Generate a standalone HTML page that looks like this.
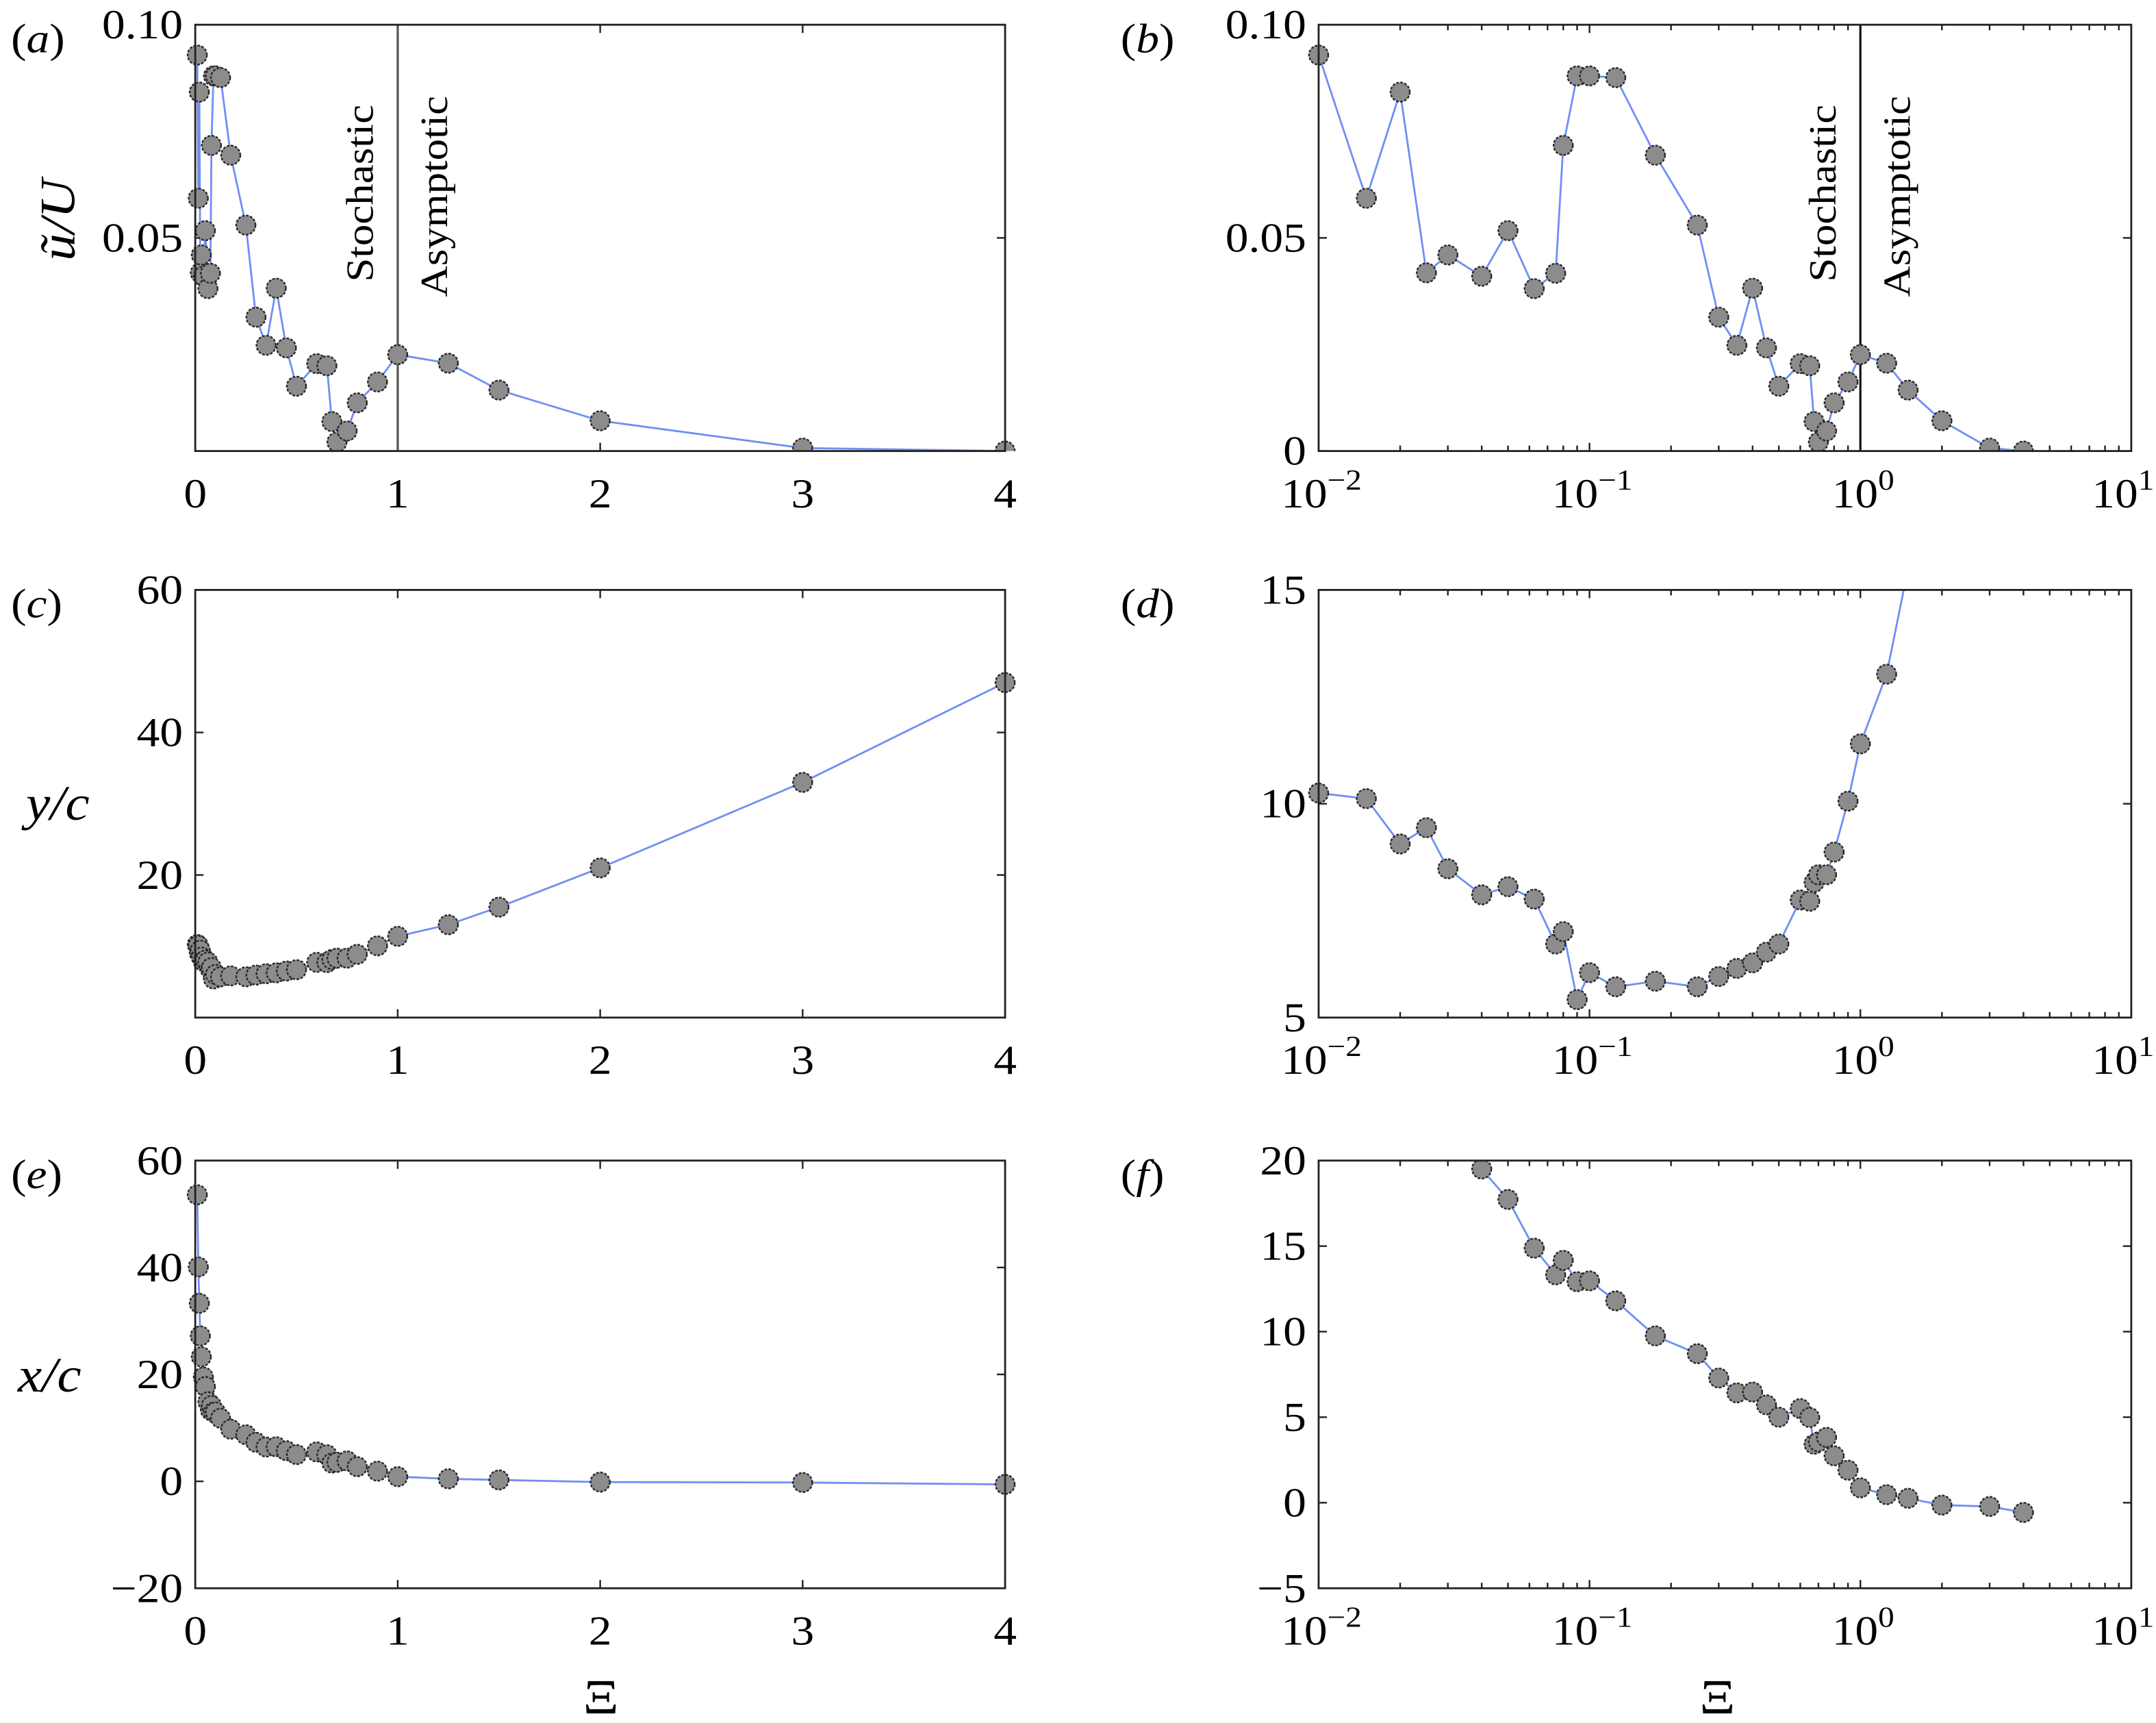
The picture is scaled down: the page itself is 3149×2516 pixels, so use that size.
<!DOCTYPE html>
<html><head><meta charset="utf-8"><style>
html,body{margin:0;padding:0;background:#fff;}
svg{display:block;}
</style></head><body>
<svg id="fig" width="3149" height="2516" viewBox="0 0 1568 1253" preserveAspectRatio="none" xmlns="http://www.w3.org/2000/svg" font-family="Liberation Serif, DejaVu Serif, serif"></svg>
<script>
const xiValues = [0.01,0.015,0.02,0.025,0.03,0.04,0.05,0.0625,0.075,0.08,0.09,0.1,0.125,0.175,0.25,0.3,0.35,0.4,0.45,0.5,0.6,0.65,0.675,0.7,0.75,0.8,0.9,1,1.25,1.5,2,3,4];
const uAmplitude = [0.0929,0.0593,0.0842,0.0418,0.046,0.041,0.0517,0.0381,0.0417,0.0717,0.088,0.088,0.0876,0.0694,0.053,0.0314,0.0248,0.0382,0.0242,0.0152,0.0205,0.0200,0.0069,0.0021,0.0047,0.0113,0.0162,0.0226,0.0206,0.0143,0.0071,0.0007,0.0];
const yPosition = [10.25,10.12,9.06,9.44,8.48,7.87,8.06,7.77,6.72,7.01,5.42,6.05,5.72,5.85,5.72,5.96,6.15,6.28,6.53,6.72,7.75,7.72,8.16,8.34,8.34,8.87,10.06,11.40,13.03,15.5,21.0,33.0,47.0];
const xPosition = [53.6,40.1,33.3,27.2,23.3,19.51,17.73,14.88,13.32,14.17,12.92,12.97,11.8,9.75,8.71,7.29,6.42,6.47,5.72,5.0,5.5,4.98,3.42,3.56,3.82,2.74,1.9,0.87,0.47,0.26,-0.14,-0.22,-0.57];
const linTicks = [0,1,2,3,4];
const uTicksA = [0.10,0.05];
const uTickLabelsA = ["0.10","0.05"];
const uTicksB = [0.10,0.05,0];
const uTickLabelsB = ["0.10","0.05","0"];
const yTicksC = [60,40,20];
const yTicksD = [15,10,5];
const xTicksE = [60,40,20,0,-20];
const xTicksF = [20,15,10,5,0,-5];
const logDecades = [-2,-1,0,1];

const NS="http://www.w3.org/2000/svg";
const svg=document.getElementById('fig');
const SX=1.12;
const FF="Liberation Serif, DejaVu Serif, serif";
function mk(tag,attrs,parent){const e=document.createElementNS(NS,tag);for(const k in attrs)e.setAttribute(k,attrs[k]);(parent||svg).appendChild(e);return e;}
function txt(parent,x,y,size,anchor,extra){
  return mk('text',Object.assign({x:0,y:0,'font-size':size,'text-anchor':anchor,fill:'#000','font-family':FF,transform:`translate(${x},${y}) scale(${SX},1)`},extra||{}),parent);
}
let clipId=0;
function panel(p){
  const g=mk('g',{});
  
  
  const L=p.x0,R=p.x1,T=p.y0,B=p.y1;
  const sx = p.log ? (v=>L+(Math.log10(v)-p.xmin)/(p.xmax-p.xmin)*(R-L)) : (v=>L+(v-p.xmin)/(p.xmax-p.xmin)*(R-L));
  const sy = v=>B-(v-p.ymin)/(p.ymax-p.ymin)*(B-T);
  const tg=mk('g',{stroke:'#222','stroke-width':1.2},g);
  
  
  if(p.log){
    for(const d of logDecades){
      const x=sx(Math.pow(10,d));
      mk('line',{x1:x,x2:x,y1:B,y2:B-6},tg);mk('line',{x1:x,x2:x,y1:T,y2:T+6},tg);
      if(d<p.xmax){for(let m=2;m<=9;m++){const xm=sx(m*Math.pow(10,d));mk('line',{x1:xm,x2:xm,y1:B,y2:B-4},tg);mk('line',{x1:xm,x2:xm,y1:T,y2:T+4},tg);}}
      const t=txt(g,d===1?x-6:x+2,B+41,30,'middle');
      
      
      t.textContent='10';
      const s=mk('tspan',{dy:-13,'font-size':21},t);s.textContent=(d<0?'\u2212':'')+Math.abs(d);
    }
  } else {
    for(const v of linTicks){
      const x=sx(v);
      mk('line',{x1:x,x2:x,y1:B,y2:B-6},tg);mk('line',{x1:x,x2:x,y1:T,y2:T+6},tg);
      const t=txt(g,x,B+41,30,'middle');
      
      
      t.textContent=String(v);
    }
  }
  p.yt.forEach((v,i)=>{
    const y=sy(v);
    mk('line',{x1:L,x2:L+6,y1:y,y2:y},tg);mk('line',{x1:R,x2:R-6,y1:y,y2:y},tg);
    const t=txt(g,L-9,y+10,30,'end');
    
    
    t.textContent=p.ytl[i];
  });
  const cid='c'+(clipId++);
  const cp=mk('clipPath',{id:cid},g);mk('rect',{x:L-8,y:T,width:R-L+16,height:B-T},cp);
  const dg=mk('g',{'clip-path':'url(#'+cid+')'},g);
  if(p.vline){
    const vl=mk('line',{x1:sx(1),x2:sx(1),y1:T,y2:B,stroke:p.vcol,'stroke-width':1.6},dg);
    
    
  }
  const pts=xiValues.map((xv,i)=>sx(xv).toFixed(2)+','+sy(p.vals[i]).toFixed(2)).join(' ');
  const line=mk('polyline',{points:pts,fill:'none',stroke:'#6f8ff5','stroke-width':1.4},dg);
  
  
  xiValues.forEach((xv,i)=>{
    const c=mk('circle',{cx:sx(xv),cy:sy(p.vals[i]),r:7,fill:'#8c8c8c',stroke:'#2a2a2a','stroke-width':1.2,'stroke-dasharray':'2 1'},dg);
    
    
  });
  const fr=mk('rect',{x:L,y:T,width:R-L,height:B-T,fill:'none',stroke:'#222','stroke-width':1.4},g);
  
  
  if(p.vline){
    const xl=sx(1);
    const s1=mk('text',{x:0,y:0,'font-size':28,'text-anchor':'start',fill:'#000','font-family':FF,transform:`translate(${xl-18},${T+187}) rotate(-90) scale(1.12,1)`},g);
    
    
    s1.textContent='Stochastic';
    const s2=mk('text',{x:0,y:0,'font-size':28,'text-anchor':'start',fill:'#000','font-family':FF,transform:`translate(${xl+36},${T+198}) rotate(-90) scale(1.12,1)`},g);
    
    
    s2.textContent='Asymptotic';
  }
  const pl=txt(g,p.lx,T+20,30,'start');
  
  
  pl.textContent='(';
  const it=mk('tspan',{'font-style':'italic'},pl);it.textContent=p.id;
  const cl=mk('tspan',{},pl);cl.textContent=')';
}
const LX0=142,LX1=731,RX0=959,RX1=1550;
panel({id:'a',x0:LX0,x1:LX1,y0:18,y1:328,log:false,xmin:0,xmax:4,ymin:0,ymax:0.1,vals:uAmplitude,yt:uTicksA,ytl:uTickLabelsA,vline:true,vcol:'#555',lx:8});
panel({id:'b',x0:RX0,x1:RX1,y0:18,y1:328,log:true,xmin:-2,xmax:1,ymin:0,ymax:0.1,vals:uAmplitude,yt:uTicksB,ytl:uTickLabelsB,vline:true,vcol:'#111',lx:815});
panel({id:'c',x0:LX0,x1:LX1,y0:429,y1:740,log:false,xmin:0,xmax:4,ymin:0,ymax:60,vals:yPosition,yt:yTicksC,ytl:yTicksC.map(String),lx:8});
panel({id:'d',x0:RX0,x1:RX1,y0:429,y1:740,log:true,xmin:-2,xmax:1,ymin:5,ymax:15,vals:yPosition,yt:yTicksD,ytl:yTicksD.map(String),lx:815});
panel({id:'e',x0:LX0,x1:LX1,y0:844,y1:1155,log:false,xmin:0,xmax:4,ymin:-20,ymax:60,vals:xPosition,yt:xTicksE,ytl:xTicksE.map(v=>v<0?'\u2212'+(-v):String(v)),lx:8});
panel({id:'f',x0:RX0,x1:RX1,y0:844,y1:1155,log:true,xmin:-2,xmax:1,ymin:-5,ymax:20,vals:xPosition,yt:xTicksF,ytl:xTicksF.map(v=>v<0?'\u2212'+(-v):String(v)),lx:815});
function title(content,x,y,rot,name){
  const t=mk('text',{x:0,y:0,'font-size':36,'font-style':'italic','text-anchor':'middle',fill:'#000','font-family':FF,transform:`translate(${x},${y})`+(rot?' rotate(-90)':'')+` scale(1.1,1)`});
  
  
  t.textContent=content;return t;}
title('\u0169/U',54,160,true,'y-axis-title-a');
title('y/c',42,596,false,'y-axis-title-c');
title('x/c',36,1012,false,'y-axis-title-e');
const xa=txt(svg,437,1246,36,'middle');


xa.textContent='\u039E';
const xb=txt(svg,1249,1246,36,'middle');


xb.textContent='\u039E';
</script>
</body></html>
